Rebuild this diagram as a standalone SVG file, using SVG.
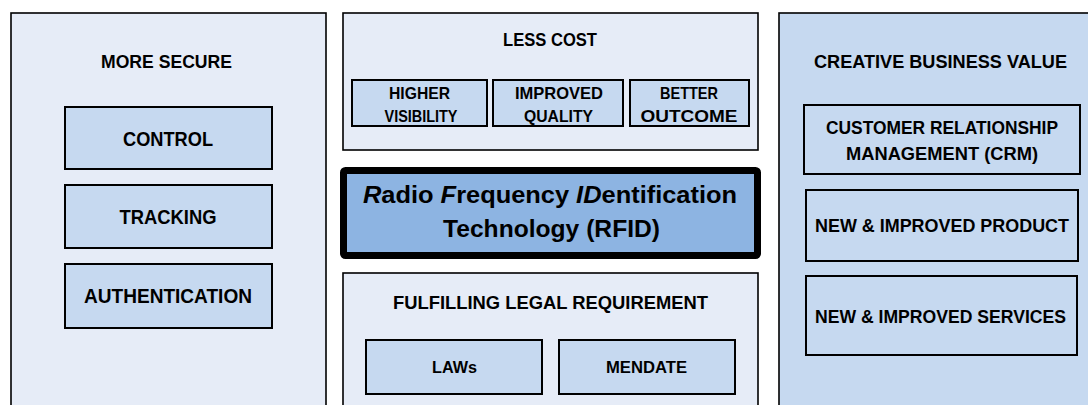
<svg xmlns="http://www.w3.org/2000/svg" width="1088" height="405" viewBox="0 0 1088 405">
<style>
text{font-family:"Liberation Sans",Arial,sans-serif;font-weight:bold;fill:#000;text-anchor:middle}
.panel{fill:#E6ECF7;stroke:#000;stroke-width:1.6}
.panel2{fill:#C6D9F0;stroke:#000;stroke-width:1.6}
.box{fill:#C6D9F0;stroke:#000;stroke-width:2}
.h{font-size:18.5px}
.l{font-size:19.5px}
.s{font-size:16.5px}
.r{font-size:18px}
.core{fill:#8DB4E2;stroke:#000;stroke-width:7}
.big{font-size:24px}
</style>
<rect width="1088" height="405" fill="#fff"/>
<g id="connectors"/>
<g id="more-secure">
<rect class="panel" x="11" y="13" width="315" height="400"/>
<text class="h" x="166.5" y="68" textLength="131" lengthAdjust="spacingAndGlyphs">MORE SECURE</text>
</g>
<g id="control">
<rect class="box" x="65" y="107" width="207" height="62"/>
<text class="l" x="168" y="145.5" textLength="90" lengthAdjust="spacingAndGlyphs">CONTROL</text>
</g>
<g id="tracking">
<rect class="box" x="65" y="185" width="207" height="63"/>
<text class="l" x="168" y="224" textLength="97" lengthAdjust="spacingAndGlyphs">TRACKING</text>
</g>
<g id="authentication">
<rect class="box" x="65" y="264" width="207" height="64"/>
<text class="l" x="168" y="303" textLength="168" lengthAdjust="spacingAndGlyphs">AUTHENTICATION</text>
</g>
<g id="less-cost">
<rect class="panel" x="343" y="13" width="415" height="137"/>
<text class="h" x="550" y="46" textLength="94" lengthAdjust="spacingAndGlyphs">LESS COST</text>
</g>
<g id="higher-visibility">
<rect class="box" x="352" y="80" width="135" height="46"/>
<text class="s" x="419.5" y="99" textLength="61" lengthAdjust="spacingAndGlyphs">HIGHER</text>
<text class="s" x="421" y="121.5" textLength="73" lengthAdjust="spacingAndGlyphs">VISIBILITY</text>
</g>
<g id="improved-quality">
<rect class="box" x="493" y="80" width="130" height="46"/>
<text class="s" x="559" y="99" textLength="88" lengthAdjust="spacingAndGlyphs">IMPROVED</text>
<text class="s" x="558.5" y="121.5" textLength="69" lengthAdjust="spacingAndGlyphs">QUALITY</text>
</g>
<g id="better-outcome">
<rect class="box" x="630" y="80" width="119" height="46"/>
<text class="s" x="689" y="99" textLength="58" lengthAdjust="spacingAndGlyphs">BETTER</text>
<text class="s" x="689" y="121.5" textLength="97" lengthAdjust="spacingAndGlyphs">OUTCOME</text>
</g>
<g id="rfid">
<rect class="core" x="343.5" y="170.5" width="414" height="85" rx="2"/>
<text class="big" x="550" y="203" textLength="374" lengthAdjust="spacingAndGlyphs"><tspan font-style="italic">R</tspan>adio <tspan font-style="italic">F</tspan>requency <tspan font-style="italic">ID</tspan>entification</text>
<text class="big" x="551.5" y="237" textLength="217" lengthAdjust="spacingAndGlyphs">Technology (RFID)</text>
</g>
<g id="fulfilling">
<rect class="panel" x="343" y="273" width="415" height="140"/>
<text class="h" x="550.5" y="309" textLength="315" lengthAdjust="spacingAndGlyphs">FULFILLING LEGAL REQUIREMENT</text>
</g>
<g id="laws">
<rect class="box" x="366" y="340" width="176" height="54"/>
<text class="s" x="454.5" y="373" textLength="45" lengthAdjust="spacingAndGlyphs">LAWs</text>
</g>
<g id="mendate">
<rect class="box" x="559" y="340" width="176" height="54"/>
<text class="s" x="646.5" y="373" textLength="81" lengthAdjust="spacingAndGlyphs">MENDATE</text>
</g>
<g id="creative-business-value">
<rect class="panel2" x="779" y="13" width="320" height="400"/>
<text class="h" x="940.5" y="68" textLength="253" lengthAdjust="spacingAndGlyphs">CREATIVE BUSINESS VALUE</text>
</g>
<g id="crm">
<rect class="box" x="804" y="105" width="276" height="69"/>
<text class="r" x="942" y="134" textLength="232" lengthAdjust="spacingAndGlyphs">CUSTOMER RELATIONSHIP</text>
<text class="r" x="942" y="159.5" textLength="192" lengthAdjust="spacingAndGlyphs">MANAGEMENT (CRM)</text>
</g>
<g id="product">
<rect class="box" x="806" y="190" width="272" height="71"/>
<text class="r" x="942" y="232" textLength="254" lengthAdjust="spacingAndGlyphs">NEW &amp; IMPROVED PRODUCT</text>
</g>
<g id="services">
<rect class="box" x="806" y="276" width="271" height="79"/>
<text class="r" x="940.5" y="322.5" textLength="251" lengthAdjust="spacingAndGlyphs">NEW &amp; IMPROVED SERVICES</text>
</g>
</svg>
